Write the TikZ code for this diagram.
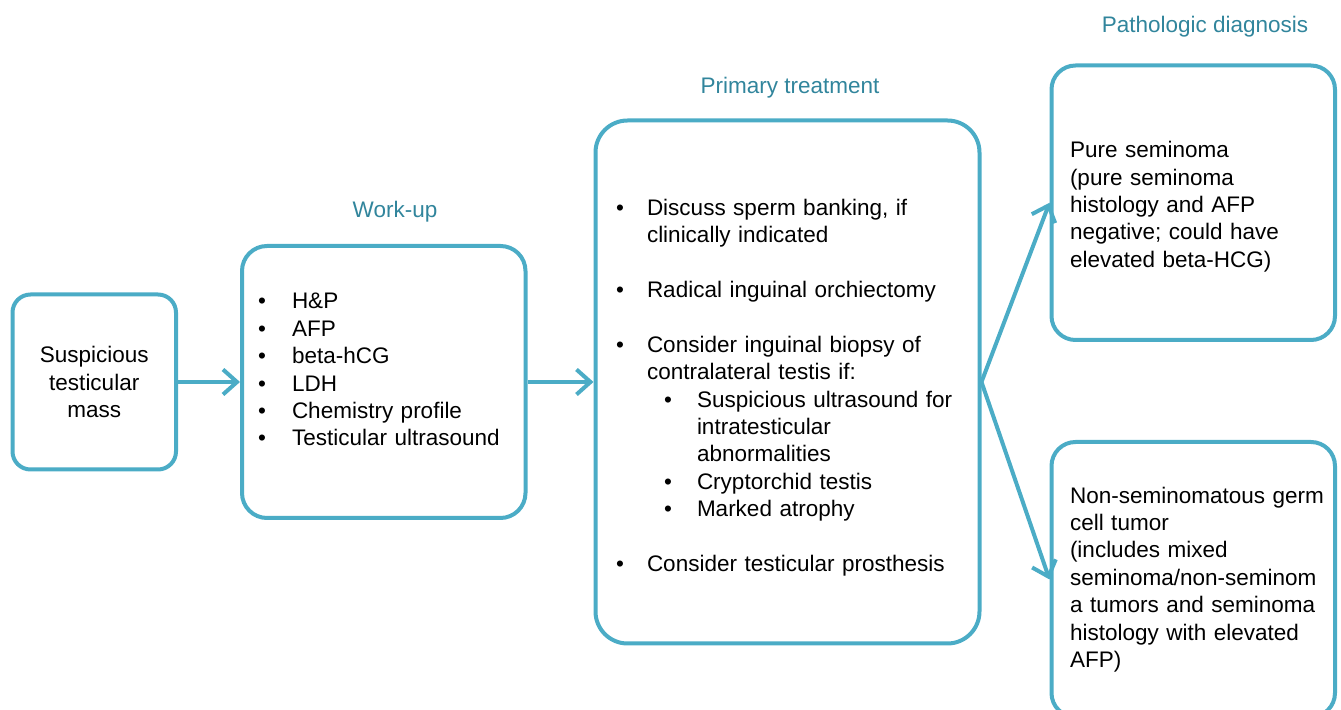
\documentclass[tikz,border=0pt]{standalone}
\usepackage{fontspec}
\setmainfont{Liberation Sans}
\usepackage{enumitem}
\usetikzlibrary{arrows.meta, positioning}
\usepackage{xcolor}
\definecolor{boxBlue}{RGB}{75,172,198}
\definecolor{headTeal}{RGB}{49,133,156}
\setlist[itemize]{label=\textbullet, nosep}
\tikzset{
    font=\fontsize{11.25pt}{13.7pt}\selectfont,
    >={Straight Barb[length=7pt, width=12.5pt]},
    % Shapes
    box/.style={rectangle, draw=boxBlue, line width=2pt, fill=white,
                align=left, inner ysep=4pt},
    % Flow & Labels
    head/.style={text=headTeal, inner sep=2pt},
    flow/.style={->, line width=2pt, boxBlue}
}

\begin{document}
\begin{tikzpicture}[x=0.5pt, y=-0.5pt]
\useasboundingbox (0,0) rectangle (1341,710);

\node[box, align=center, rounded corners=9pt, minimum width=81.75pt, minimum height=87.5pt] (mass) at (94.25,382)
    {Suspicious\\testicular\\mass};
\node[box, rounded corners=12.5pt, minimum width=141.75pt, minimum height=136pt,
      text width=125.75pt, inner xsep=8pt, text depth=100.5pt, right=31pt of mass] (workup) {%
    \begin{itemize}[leftmargin=17pt, labelsep=13pt]
    \item H\&P
    \item AFP
    \item beta-hCG
    \item LDH
    \item Chemistry profile
    \item Testicular ultrasound
    \end{itemize}};
\node[box, rounded corners=16pt, minimum width=192pt, minimum height=261.5pt,
      text width=174pt, inner xsep=9pt, right=33pt of workup] (treat) {%
    \begin{itemize}[leftmargin=16.75pt, labelsep=11.5pt, itemsep=13.7pt]
    \item Discuss sperm banking, if\newline clinically indicated
    \item Radical inguinal orchiectomy
    \item Consider inguinal biopsy of\newline contralateral testis if:
        \begin{itemize}[leftmargin=25pt, labelsep=12.5pt]
        \item Suspicious ultrasound for\newline intratesticular\newline abnormalities
        \item Cryptorchid testis
        \item Marked atrophy
        \end{itemize}
    \item Consider testicular prosthesis
    \end{itemize}};
\node[box, rounded corners=12pt, minimum width=141.75pt, minimum height=137.25pt,
      text width=123.25pt, inner xsep=9.25pt, text height=12pt] (pure) at (1193.25,202.75)
    {Pure seminoma\\(pure seminoma\\histology and AFP\\negative; could have\\elevated beta-HCG)};
\node[box, rounded corners=12pt, minimum width=141.75pt, minimum height=137.5pt,
      text width=123.25pt, inner xsep=9.25pt] (nsgct) at (1193.25,579.5)
    {\mbox{Non-seminomatous germ}\\cell tumor\\(includes mixed\\\mbox{seminoma/non-seminom}\\a tumors and seminoma\\histology with elevated\\AFP)};

\node[head] (hwork) at (395,212) {Work-up};
\node[head] (htreat) at (790,88) {Primary treatment};
\node[head] (hdiag) at (1205,26.5) {Pathologic diagnosis};

\draw[flow] (mass) -- (workup);
\draw[flow] (workup) -- (treat);
\draw[flow] (treat.east) -- (pure.west);
\draw[flow] (treat.east) -- (nsgct.west);

\end{tikzpicture}
\end{document}
